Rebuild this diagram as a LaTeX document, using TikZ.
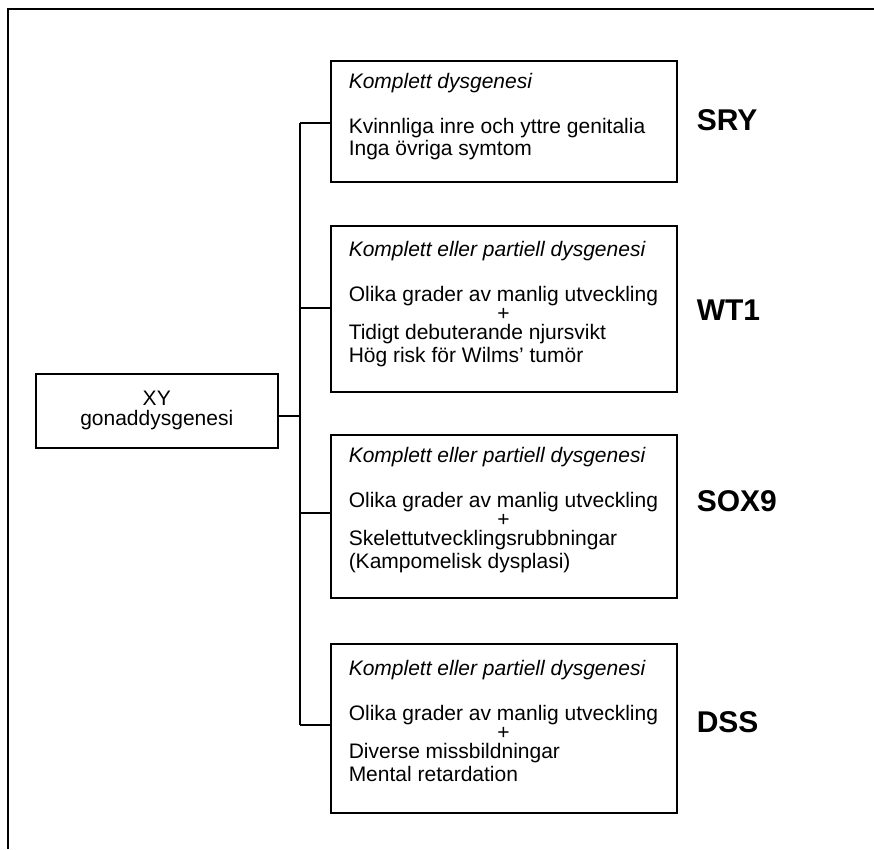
\documentclass[tikz,border=0pt]{standalone}
\usepackage{fontspec}
\setmainfont{Liberation Sans}
\begin{document}
\begin{tikzpicture}[x=1pt,y=-1pt,
  line width=1.5pt,
  boxshape/.style={draw, rectangle, inner sep=0pt, anchor=north west},
  boxtext/.style={anchor=base west, inner sep=0pt, font=\fontsize{21}{23}\selectfont},
  genelabel/.style={anchor=base west, inner sep=0pt, font=\fontsize{30}{34}\selectfont\bfseries},
  link/.style={draw, line width=1.5pt}]
\useasboundingbox (0,0) rectangle (874,849);
% partial frame
\draw[line width=1.6pt] (8,849) -- (8,9) -- (874,9);
% boxes
\node[boxshape, minimum width=242pt, minimum height=74pt, align=center,
      font=\fontsize{21}{20}\selectfont] (xy) at (35,373) {XY\\gonaddysgenesi};
\node[boxshape, minimum width=346pt, minimum height=121pt] (b1) at (330,60) {};
\node[boxshape, minimum width=346pt, minimum height=166pt] (b2) at (330,225) {};
\node[boxshape, minimum width=346pt, minimum height=163pt] (b3) at (330,434) {};
\node[boxshape, minimum width=346pt, minimum height=169pt] (b4) at (330,643) {};
% texts
\renewcommand{\arraystretch}{1}
\node[boxtext] (t1) at (348,88) {\begin{tabular}[t]{@{}l@{}}
\textit{Komplett dysgenesi}\\[22pt]
Kvinnliga inre och yttre genitalia\\[-1pt]
Inga övriga symtom
\end{tabular}};
\node[boxtext] (t2) at (348,256) {\begin{tabular}[t]{@{}l@{}}
\textit{Komplett eller partiell dysgenesi}\\[22pt]
Olika grader av manlig utveckling\\[-4pt]
\multicolumn{1}{@{}c@{}}{+}\\[-4pt]
Tidigt debuterande njursvikt\\
Hög risk för Wilms’ tumör
\end{tabular}};
\node[boxtext] (t3) at (348,462) {\begin{tabular}[t]{@{}l@{}}
\textit{Komplett eller partiell dysgenesi}\\[22pt]
Olika grader av manlig utveckling\\[-4pt]
\multicolumn{1}{@{}c@{}}{+}\\[-4pt]
Skelettutvecklingsrubbningar\\
(Kampomelisk dysplasi)
\end{tabular}};
\node[boxtext] (t4) at (348,675) {\begin{tabular}[t]{@{}l@{}}
\textit{Komplett eller partiell dysgenesi}\\[22pt]
Olika grader av manlig utveckling\\[-4pt]
\multicolumn{1}{@{}c@{}}{+}\\[-4pt]
Diverse missbildningar\\
Mental retardation
\end{tabular}};
% gene labels
\node[genelabel] (l1) at (696,130) {SRY};
\node[genelabel] (l2) at (696,320) {WT1};
\node[genelabel] (l3) at (696,511) {SOX9};
\node[genelabel] (l4) at (696,732) {DSS};
% connectors
\coordinate (j0) at (300,416);
\coordinate (j1) at (300,123);
\coordinate (j2) at (300,308);
\coordinate (j3) at (300,513);
\coordinate (j4) at (300,725);
\draw[link] (j1) -- (j4);
\draw[link] (j0 -| xy.east) -- (j0);
\draw[link] (j1) -- (j1 -| b1.west);
\draw[link] (j2) -- (j2 -| b2.west);
\draw[link] (j3) -- (j3 -| b3.west);
\draw[link] (j4) -- (j4 -| b4.west);
\end{tikzpicture}
\end{document}
